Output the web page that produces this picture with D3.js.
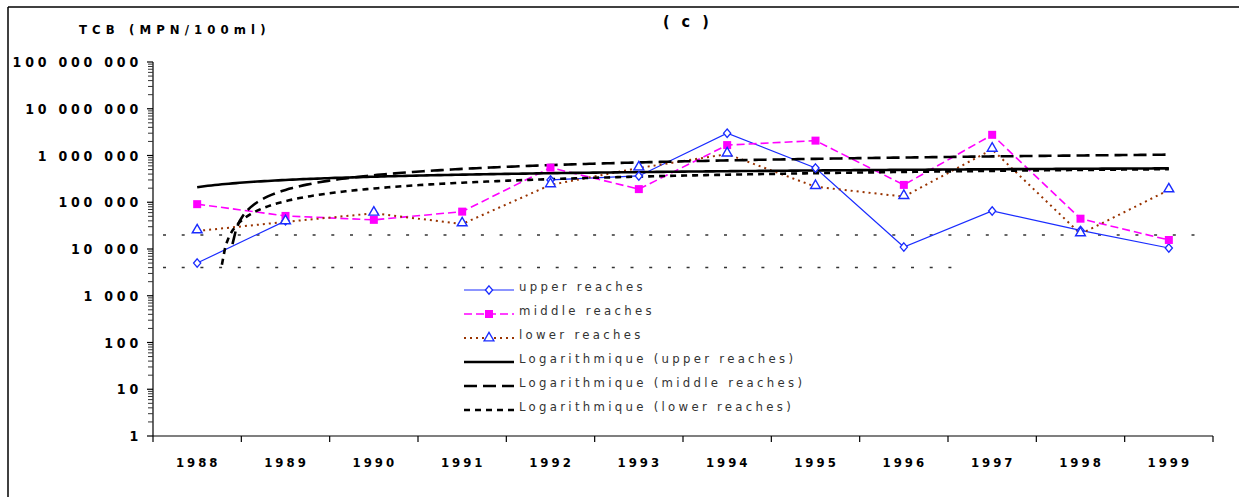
<!DOCTYPE html>
<html>
<head>
<meta charset="utf-8">
<script src="https://cdn.jsdelivr.net/npm/d3@7"></script>
<style>
  body { margin: 0; background: #fff; }
  svg text { font-family: "Liberation Sans Narrow", "DejaVu Sans Condensed", "Arial Narrow", sans-serif; }
</style>
</head>
<body>
<svg id="chart" width="1239" height="497"></svg>
<script>
// years on the x axis
const years = ["1988", "1989", "1990", "1991", "1992", "1993", "1994", "1995", "1996", "1997", "1998", "1999"];

// TCB counts (MPN/100ml), null = no sample
const upperReaches = [5000, 40000, null, null, 300000, 365000, 3000000, 540000, 11000, 65000, 25000, 10500];
const middleReaches = [91000, 51000, 42000, 63000, 550000, 191000, 1670000, 2080000, 235000, 2770000, 44500, 15600];
const lowerReaches = [24300, 38000, 58000, 34300, 235000, 540000, 1070000, 215000, 132000, 1350000, 21000, 183000];

// y axis ticks
const yTicks = [1, 10, 100, 1000, 10000, 100000, 1000000, 10000000, 100000000];

// horizontal guide levels (dotted lines)
const guideLevels = [20000, 4000];

const legendLabels = [
  "upper reaches",
  "middle reaches",
  "lower reaches",
  "Logarithmique (upper reaches)",
  "Logarithmique (middle reaches)",
  "Logarithmique (lower reaches)"
];

const svg = d3.select("#chart");

const plotLeft = 153, plotRight = 1213, plotTop = 62, plotBottom = 436;

const x = d3.scaleBand().domain(years).range([plotLeft, plotRight]);
const cx = d => x(d) + x.bandwidth() / 2;
const y = d3.scaleLog().domain([1, 1e8]).range([plotBottom, plotTop]);
// continuous index scale for the trend lines (1 = 1988)
const xi = d3.scaleLinear().domain([1, years.length]).range([cx(years[0]), cx(years[years.length - 1])]);

// outer frame (top and left only)
svg.append("line").attr("x1", 8).attr("x2", 1239).attr("y1", 7).attr("y2", 7)
  .attr("stroke", "#000").attr("stroke-width", 1.5);
svg.append("line").attr("x1", 8).attr("x2", 8).attr("y1", 7).attr("y2", 497)
  .attr("stroke", "#000").attr("stroke-width", 1.5);

// titles
svg.append("text").attr("x", 79).attr("y", 34)
  .attr("font-size", 13).attr("font-weight", "bold").attr("letter-spacing", 5.1)
  .text("TCB (MPN/100ml)");
svg.append("text").attr("x", 663).attr("y", 27)
  .attr("font-size", 16).attr("font-weight", "bold").attr("letter-spacing", 3.5)
  .text("( c )");

// y axis with minor log ticks
const fmt = v => d3.format(",")(v).replace(/,/g, " ");
const minor = [];
yTicks.slice(0, -1).forEach(t => { for (let k = 2; k < 10; k++) minor.push(t * k); });

const yg = svg.append("g");
yg.append("line").attr("x1", plotLeft).attr("x2", plotLeft).attr("y1", plotTop).attr("y2", plotBottom)
  .attr("stroke", "#000").attr("stroke-width", 1.2);
yg.selectAll(".minor").data(minor).join("line")
  .attr("x1", plotLeft - 5).attr("x2", plotLeft).attr("y1", d => y(d)).attr("y2", d => y(d))
  .attr("stroke", "#333").attr("stroke-width", 1);
yg.selectAll(".major").data(yTicks).join("line")
  .attr("x1", plotLeft - 6).attr("x2", plotLeft).attr("y1", d => y(d)).attr("y2", d => y(d))
  .attr("stroke", "#000").attr("stroke-width", 1.2);
yg.selectAll("text").data(yTicks).join("text")
  .attr("x", 142).attr("y", d => y(d) + 5)
  .attr("text-anchor", "end").attr("font-size", 14).attr("font-weight", "bold")
  .attr("letter-spacing", 3.8)
  .text(d => fmt(d));

// x axis
const xg = svg.append("g");
xg.append("line").attr("x1", plotLeft).attr("x2", plotRight).attr("y1", plotBottom).attr("y2", plotBottom)
  .attr("stroke", "#000").attr("stroke-width", 1.2);
xg.selectAll(".tick").data(years.concat(["end"])).join("line")
  .attr("x1", (d, i) => plotLeft + i * x.bandwidth()).attr("x2", (d, i) => plotLeft + i * x.bandwidth())
  .attr("y1", plotBottom).attr("y2", plotBottom + 6)
  .attr("stroke", "#000").attr("stroke-width", 1.2);
xg.selectAll("text").data(years).join("text")
  .attr("x", d => cx(d) + 1).attr("y", plotBottom + 31)
  .attr("text-anchor", "middle").attr("font-size", 13).attr("font-weight", "bold")
  .attr("letter-spacing", 3)
  .text(d => d);

// dotted guide lines
svg.selectAll(".guide").data(guideLevels).join("line")
  .attr("x1", plotLeft + 10)
  .attr("x2", (d, i) => i === 0 ? plotRight - 6 : x("1997") + 17)
  .attr("y1", d => y(d)).attr("y2", d => y(d))
  .attr("stroke", "#333").attr("stroke-width", 1.5)
  .attr("stroke-dasharray", "3,15.7");

// logarithmic trend fit (y = a ln(i) + b), i = category index
function logFit(vals) {
  const pts = vals.map((v, i) => [Math.log(i + 1), v]).filter(p => p[1] != null);
  const mx = d3.mean(pts, p => p[0]), my = d3.mean(pts, p => p[1]);
  const a = d3.sum(pts, p => (p[0] - mx) * (p[1] - my)) / d3.sum(pts, p => (p[0] - mx) ** 2);
  return { a, b: my - a * mx };
}
function trendPoints(vals) {
  const f = logFit(vals);
  const out = [];
  for (let t = 1; t <= years.length + 1e-9; t += 0.04) {
    const v = f.a * Math.log(t) + f.b;
    if (v > 0) out.push([t, v]);
  }
  return out;
}

const trendLine = d3.line().x(d => xi(d[0])).y(d => y(Math.max(d[1], 1)));
const trends = [
  { vals: upperReaches, dash: null },
  { vals: middleReaches, dash: "13,6" },
  { vals: lowerReaches, dash: "6,5" }
];

const dataLine = d3.line()
  .defined(d => d.v != null)
  .x(d => cx(d.year)).y(d => y(d.v));
const asPts = vals => vals.map((v, i) => ({ year: years[i], v }));

const series = [
  { vals: upperReaches, color: "#1a2cff", width: 1.2, dash: null },
  { vals: middleReaches, color: "#ff00ff", width: 1.6, dash: "8,4" },
  { vals: lowerReaches, color: "#993300", width: 2, dash: "2,4" }
];

// data lines first, trends over them
svg.selectAll(".series").data(series).join("path")
  .attr("fill", "none")
  .attr("stroke", d => d.color).attr("stroke-width", d => d.width)
  .attr("stroke-dasharray", d => d.dash)
  .attr("d", d => dataLine(asPts(d.vals)));

svg.selectAll(".trend").data(trends).join("path")
  .attr("fill", "none").attr("stroke", "#000").attr("stroke-width", 2.6)
  .attr("stroke-dasharray", d => d.dash)
  .attr("d", d => trendLine(trendPoints(d.vals)));

// markers
const diamondPath = "M0,-4.2L3.6,0L0,4.2L-3.6,0Z";
const squarePath = d3.symbol(d3.symbolSquare, 64)();
const trianglePath = d3.symbol(d3.symbolTriangle, 42)();

svg.selectAll(".m-up").data(asPts(upperReaches).filter(d => d.v != null)).join("path")
  .attr("transform", d => `translate(${cx(d.year)},${y(d.v)})`)
  .attr("d", diamondPath).attr("fill", "#fff").attr("stroke", "#1a2cff").attr("stroke-width", 1.3);
svg.selectAll(".m-mid").data(asPts(middleReaches)).join("path")
  .attr("transform", d => `translate(${cx(d.year)},${y(d.v)})`)
  .attr("d", squarePath).attr("fill", "#ff00ff");
svg.selectAll(".m-low").data(asPts(lowerReaches)).join("path")
  .attr("transform", d => `translate(${cx(d.year)},${y(d.v) - 1})`)
  .attr("d", trianglePath).attr("fill", "#fff").attr("stroke", "#1a2cff").attr("stroke-width", 1.4);

// legend
const legX = 464, legW = 50, legY0 = 290, legStep = 24;
const legStyles = [
  { stroke: "#1a2cff", width: 1.2, dash: null, marker: diamondPath, fill: "#fff", mstroke: "#1a2cff" },
  { stroke: "#ff00ff", width: 1.6, dash: "8,4", marker: squarePath, fill: "#ff00ff", mstroke: "none" },
  { stroke: "#993300", width: 2, dash: "2,4", marker: trianglePath, fill: "#fff", mstroke: "#1a2cff" },
  { stroke: "#000", width: 2.6, dash: null },
  { stroke: "#000", width: 2.6, dash: "13,6" },
  { stroke: "#000", width: 2.6, dash: "6,5" }
];
const leg = svg.append("g");
legendLabels.forEach((lab, i) => {
  const s = legStyles[i];
  const ly = legY0 + i * legStep;
  leg.append("line").attr("x1", legX).attr("x2", legX + legW).attr("y1", ly).attr("y2", ly)
    .attr("stroke", s.stroke).attr("stroke-width", s.width).attr("stroke-dasharray", s.dash);
  if (s.marker) {
    leg.append("path").attr("transform", `translate(${legX + legW / 2},${ly})`)
      .attr("d", s.marker).attr("fill", s.fill).attr("stroke", s.mstroke).attr("stroke-width", 1.3);
  }
  leg.append("text").attr("x", legX + 55).attr("y", ly + 1)
    .attr("font-size", 13).attr("fill", "#333").attr("letter-spacing", 3.3)
    .text(lab);
});
</script>
</body>
</html>
